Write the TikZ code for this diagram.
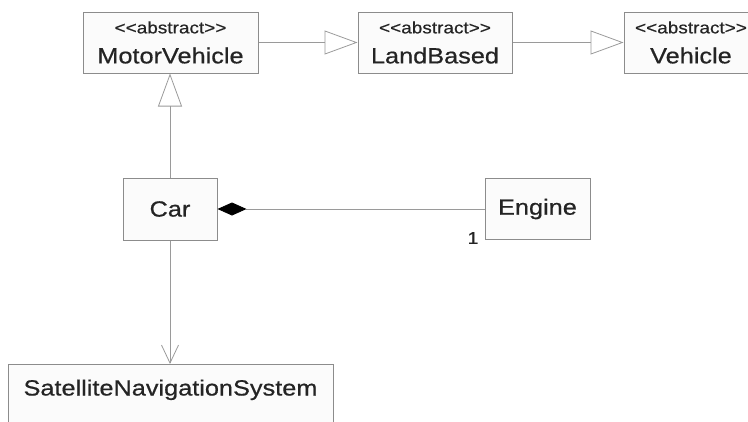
\documentclass[tikz,border=0pt]{standalone}
\usepackage{fontspec}
\usetikzlibrary{arrows.meta}
\newfontfamily\umlfont{Liberation Sans}[FakeStretch=1.15, FakeBold=0.6]
\definecolor{linegray}{HTML}{9A9A9A}
\definecolor{boxgray}{HTML}{8C8C8C}
\definecolor{inkgray}{HTML}{242424}
\newcommand{\abstractcls}[1]{{\fontsize{16.5}{30}\selectfont <<abstract>>}\\#1}

\begin{document}
\begin{tikzpicture}[x=1pt, y=-1pt,
  cls/.style = {draw=boxgray, line width=1pt, fill=gray!3, text=inkgray, align=center, inner sep=0pt, font=\umlfont\fontsize{22}{30}\selectfont},
  gen/.style = {draw=linegray, line width=0.8pt, -{Triangle[open, length=33pt, width=24pt]}},
  comp/.style = {draw=linegray, line width=0.8pt, -{Diamond[length=29pt, width=13pt, fill=black, color=black]}},
  nav/.style = {draw=linegray, line width=0.8pt, -{Straight Barb[length=18pt, width=17pt]}}]
\useasboundingbox (0,0) rectangle (748,421);
\node[cls, minimum width=175pt, minimum height=61pt] (motor) at (170.5,42.5) {\abstractcls{MotorVehicle}};
\node[cls, minimum width=154pt, minimum height=61pt] (land) at (435,42.5) {\abstractcls{LandBased}};
\node[cls, minimum width=134pt, minimum height=61pt] (vehicle) at (691,42.5) {\abstractcls{Vehicle}};
\node[cls, minimum width=94pt, minimum height=62pt] (car) at (170,209) {Car};
\node[cls, minimum width=105pt, minimum height=61pt] (engine) at (537.5,209) {Engine};
\node[cls, anchor=north, minimum width=325pt, inner ysep=15pt, text height=16pt, text depth=60pt] (satnav) at (170.5,364) {SatelliteNavigationSystem};
\node[text=inkgray, font=\umlfont\fontsize{17}{20}\selectfont] (mult) at (473,238) {1};
\draw[gen] (motor) -- (land);
\draw[gen] (land) -- (vehicle);
\draw[gen] (car) -- (car |- motor.south);
\draw[comp] (engine) -- (car);
\draw[nav] (car) -- (car |- satnav.north);
\end{tikzpicture}
\end{document}
